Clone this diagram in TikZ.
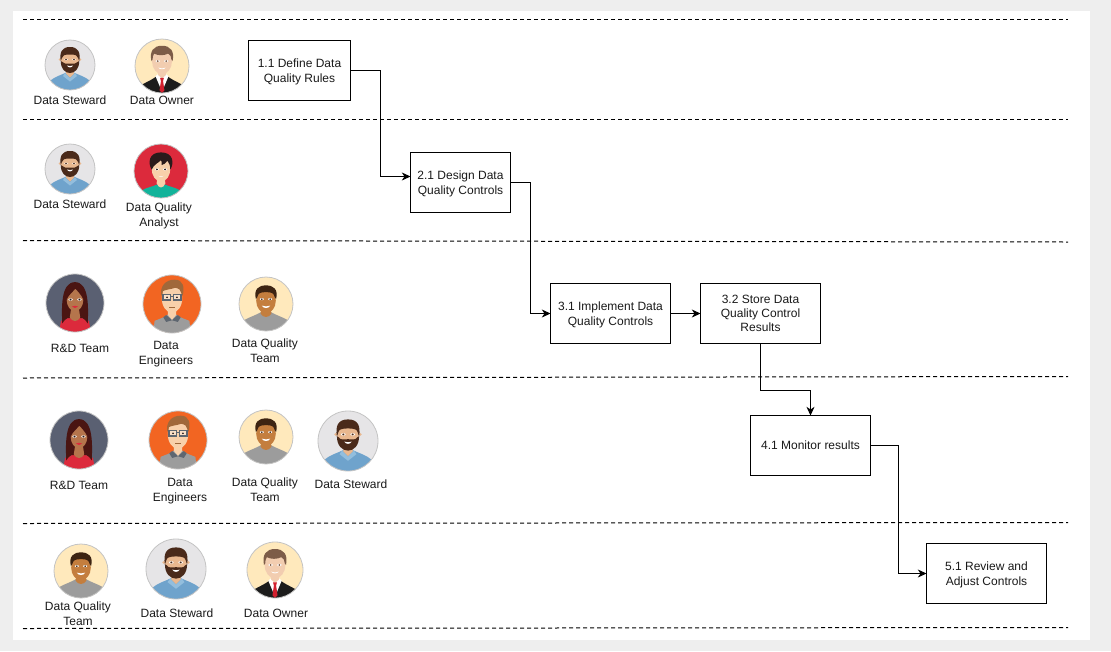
\documentclass[tikz,border=0pt]{standalone}
\usepackage{fontspec}
\setmainfont{Liberation Sans}
\usetikzlibrary{arrows.meta}
\definecolor{pagegray}{HTML}{EEEEEE}
\definecolor{inkc}{HTML}{1A1A1A}
\definecolor{rimc}{HTML}{C4C4C4}
\definecolor{stewbg}{HTML}{E6E5E7}
\definecolor{shirtblue}{HTML}{6FA3CC}
\definecolor{shirtblue2}{HTML}{93BEDD}
\definecolor{skinlight}{HTML}{E9B88F}
\definecolor{hairbrown}{HTML}{4A2A1A}
\definecolor{creambg}{HTML}{FFE9BC}
\definecolor{skinpale}{HTML}{F2CDB0}
\definecolor{hairowner}{HTML}{7D5C48}
\definecolor{tiered}{HTML}{D2202E}
\definecolor{suitblack}{HTML}{1C1C1C}
\definecolor{analystbg}{HTML}{DC2A3C}
\definecolor{tealc}{HTML}{12B39A}
\definecolor{skinpeach}{HTML}{F8D0AA}
\definecolor{hairdark}{HTML}{2B1B1B}
\definecolor{rdbg}{HTML}{5A6072}
\definecolor{hairmaroon}{HTML}{4A1512}
\definecolor{skintan}{HTML}{B5754C}
\definecolor{engbg}{HTML}{F26522}
\definecolor{shirtgray}{HTML}{9C9C9C}
\definecolor{shirtgray2}{HTML}{5E6670}
\definecolor{hairginger}{HTML}{A0683A}
\definecolor{skinbrown}{HTML}{C47E3E}
\definecolor{hairdq}{HTML}{3D2412}
\newcommand{\avbase}[1]{\fill[#1] (0,0) circle (100);}
\newcommand{\avrim}{\draw[rimc,line width=.6pt] (0,0) circle (100);}
\newcommand{\aveyes}[2]{\fill[white] (-14,#1) ellipse (7 and 4); \fill[white] (14,#1) ellipse (7 and 4);
  \fill[#2] (-14,#1) circle (3.4); \fill[#2] (14,#1) circle (3.4);}
\newcommand{\lowerline}{\rule{0pt}{8.1pt}}
\tikzset{
  px/.style={x=.75pt,y=-.75pt},
  laneline/.style={line width=.75pt,dash pattern=on 3pt off 2.25pt,black},
  procbox/.style={draw=black,line width=.75pt,fill=white,align=center,text=inkc,outer sep=0pt,inner sep=0pt,font=\fontsize{9pt}{11.25pt}\selectfont},
  rolelabel/.style={align=center,text=inkc,font=\fontsize{9pt}{11.25pt}\selectfont,inner sep=0pt},
  flow/.style={draw=black,line width=.75pt,-{Stealth[length=6.5pt,width=6pt,inset=2pt]}},
  stewardav/.pic={
    \avbase{stewbg}
    \begin{scope}\clip (0,0) circle (100);
      \fill[shirtblue] (-85,100) -- (-78,62) .. controls (-60,46) and (-35,40) .. (-15,30) -- (15,30) .. controls (35,40) and (60,46) .. (78,62) -- (85,100) -- cycle;
      \fill[shirtblue2] (-20,32) -- (0,52) -- (20,32) -- (28,44) -- (0,66) -- (-28,44) -- cycle;
      \fill[skinlight] (-14,15) -- (14,15) -- (16,34) -- (0,50) -- (-16,34) -- cycle;
    \end{scope}
    \begin{scope}[xscale=1.12]
    \fill[skinlight] (0,-18) ellipse (32 and 38);
    \fill[skinlight] (-36,-22) circle (5); \fill[skinlight] (36,-22) circle (5);
    \fill[hairbrown] (-33,-15) .. controls (-38,-50) and (-30,-72) .. (0,-72) .. controls (30,-72) and (38,-50) .. (33,-15) -- (29,-28) .. controls (28,-38) and (20,-42) .. (0,-42) .. controls (-20,-42) and (-28,-38) .. (-29,-28) -- cycle;
    \fill[hairbrown] (-33,-16) .. controls (-33,15) and (-18,32) .. (0,32) .. controls (18,32) and (33,15) .. (33,-16) -- (27,-12) .. controls (23,-2) and (12,-6) .. (0,-6) .. controls (-12,-6) and (-23,-2) .. (-27,-12) -- cycle;
    \fill[white] (-11,2) .. controls (-5,5) and (5,5) .. (11,2) .. controls (7,12) and (-7,12) .. (-11,2) -- cycle;
    \aveyes{-22}{hairbrown}
    \end{scope}
    \avrim
  },
  ownerav/.pic={
    \avbase{creambg}
    \begin{scope}\clip (0,0) circle (100);
      \fill[suitblack] (-85,100) -- (-72,68) .. controls (-55,58) and (-35,50) .. (-20,38) -- (20,38) .. controls (35,50) and (55,58) .. (72,68) -- (85,100) -- cycle;
      \fill[white] (-24,38) -- (0,95) -- (24,38) -- (12,28) -- (-12,28) -- cycle;
      \fill[skinpale] (-15,10) -- (15,10) -- (14,34) -- (0,46) -- (-14,34) -- cycle;
      \fill[tiered] (-7,44) -- (7,44) -- (4,56) -- (9,90) -- (0,100) -- (-9,90) -- (-4,56) -- cycle;
    \end{scope}
    \begin{scope}[xscale=1.12]
    \fill[skinpale] (0,-18) ellipse (33 and 48);
    \fill[hairowner] (-35,-18) .. controls (-42,-55) and (-28,-75) .. (0,-75) .. controls (28,-75) and (42,-55) .. (35,-18) -- (31,-24) .. controls (31,-34) and (28,-42) .. (20,-46) .. controls (8,-38) and (-14,-38) .. (-26,-46) .. controls (-30,-40) and (-31,-32) .. (-31,-24) -- cycle;
    \aveyes{-18}{hairowner}
    \fill[white] (-12,6) .. controls (-6,10) and (6,10) .. (12,6) .. controls (8,14) and (-8,14) .. (-12,6) -- cycle;
    \end{scope}
    \avrim
  },
  analystav/.pic={
    \avbase{analystbg}
    \begin{scope}\clip (0,0) circle (100);
      \fill[tealc] (-72,100) -- (-68,70) .. controls (-50,60) and (-30,58) .. (-15,50) -- (15,50) .. controls (30,58) and (50,60) .. (68,70) -- (72,100) -- cycle;
      \fill[skinpeach] (-14,15) -- (14,15) -- (16,46) .. controls (8,66) and (-8,66) .. (-16,46) -- cycle;
    \end{scope}
    \begin{scope}[xscale=1.08]
    \fill[skinpeach] (0,-8) ellipse (32 and 47);
    \fill[hairdark] (-32,-5) .. controls (-46,-30) and (-42,-69) .. (0,-69) .. controls (42,-69) and (46,-30) .. (32,-5) .. controls (32,-20) and (28,-30) .. (22,-38) .. controls (18,-28) and (8,-24) .. (2,-22) .. controls (4,-30) and (2,-36) .. (0,-40) .. controls (-8,-30) and (-24,-26) .. (-32,-5) -- cycle;
    \aveyes{-6}{hairdark}
    \fill[white] (-9,18) .. controls (-4,21) and (4,21) .. (9,18) .. controls (6,24) and (-6,24) .. (-9,18) -- cycle;
    \end{scope}
    \avrim
  },
  rdav/.pic={
    \avbase{rdbg}
    \begin{scope}\clip (0,0) circle (100);
      \fill[analystbg] (-55,100) -- (-48,62) .. controls (-30,54) and (-20,50) .. (-14,50) .. controls (-4,62) and (4,62) .. (14,50) .. controls (20,50) and (30,54) .. (48,62) -- (55,100) -- cycle;
      \fill[hairmaroon] (-44,70) .. controls (-46,20) and (-50,-72) .. (0,-72) .. controls (50,-72) and (46,20) .. (44,70) .. controls (38,60) and (32,56) .. (26,52) -- (-26,52) .. controls (-32,56) and (-38,60) .. (-44,70) -- cycle;
      \fill[skintan] (-12,10) -- (12,10) -- (18,50) .. controls (8,66) and (-8,66) .. (-18,50) -- cycle;
    \end{scope}
    \begin{scope}[xscale=1.1]
    \fill[skintan] (0,-10) ellipse (26 and 38);
    \fill[hairmaroon] (-27,-10) .. controls (-28,-40) and (-10,-52) .. (2,-52) .. controls (-2,-42) and (-20,-30) .. (-27,-10) -- cycle;
    \fill[hairmaroon] (27,-10) .. controls (28,-40) and (10,-52) .. (0,-52) .. controls (6,-42) and (20,-30) .. (27,-10) -- cycle;
    \aveyes{-12}{hairdark}
    \fill[analystbg] (-10,12) .. controls (-4,9) and (4,9) .. (10,12) .. controls (5,19) and (-5,19) .. (-10,12) -- cycle;
    \end{scope}
    \avrim
  },
  engav/.pic={
    \avbase{engbg}
    \begin{scope}\clip (0,0) circle (100);
      \fill[shirtgray] (-65,100) -- (-60,58) .. controls (-40,50) and (-25,46) .. (-14,36) -- (14,36) .. controls (25,46) and (40,50) .. (60,58) -- (65,100) -- cycle;
      \fill[shirtgray2] (-20,38) -- (0,56) -- (-20,62) -- (-30,46) -- cycle;
      \fill[shirtgray2] (20,38) -- (0,56) -- (20,62) -- (30,46) -- cycle;
      \fill[skinpeach] (-14,12) -- (14,12) -- (14,38) -- (0,54) -- (-14,38) -- cycle;
    \end{scope}
    \begin{scope}[xscale=1.14]
    \fill[skinpeach] (0,-20) ellipse (31 and 50);
    \fill[hairginger] (-32,-28) .. controls (-38,-60) and (-20,-84) .. (8,-84) .. controls (36,-84) and (38,-55) .. (32,-28) -- (28,-38) .. controls (28,-48) and (20,-54) .. (10,-56) .. controls (-5,-50) and (-20,-50) .. (-28,-44) -- (-28,-38) -- cycle;
    \draw[shirtgray2,line width=.9pt,fill=white,fill opacity=.35] (-27,-32) rectangle (-5,-14);
    \draw[shirtgray2,line width=.9pt,fill=white,fill opacity=.35] (5,-32) rectangle (27,-14);
    \draw[shirtgray2,line width=.9pt] (-5,-26) -- (5,-26);
    \fill[hairdark] (-15,-23) circle (3); \fill[hairdark] (15,-23) circle (3);
    \draw[hairginger,line width=.5pt] (-8,10) -- (8,10);
    \end{scope}
    \avrim
  },
  dqav/.pic={
    \avbase{creambg}
    \begin{scope}\clip (0,0) circle (100);
      \fill[shirtgray] (-85,100) -- (-78,58) .. controls (-55,46) and (-35,40) .. (-18,30) -- (18,30) .. controls (35,40) and (55,46) .. (78,58) -- (85,100) -- cycle;
      \fill[skinbrown] (-18,15) -- (18,15) -- (20,36) .. controls (10,52) and (-10,52) .. (-20,36) -- cycle;
    \end{scope}
    \begin{scope}[xscale=1.1]
    \fill[skinbrown] (0,-12) ellipse (33 and 46);
    \fill[hairdq] (-34,-18) .. controls (-42,-55) and (-25,-69) .. (0,-69) .. controls (25,-69) and (42,-55) .. (34,-18) -- (29,-26) .. controls (27,-40) and (20,-44) .. (0,-44) .. controls (-20,-44) and (-27,-40) .. (-29,-26) -- cycle;
    \aveyes{-18}{hairdq}
    \fill[white] (-14,6) .. controls (-6,10) and (6,10) .. (14,6) .. controls (9,18) and (-9,18) .. (-14,6) -- cycle;
    \end{scope}
    \avrim
  }
}
\begin{document}
\begin{tikzpicture}[px]
\useasboundingbox (0,0) rectangle (1111,651);
\fill[pagegray] (0,0) rectangle (1111,651);
\fill[white] (13,11) rectangle (1090,640);
% lanes
\draw[laneline] (23,19.5) -- (1068,19.5);
\draw[laneline] (23,119.5) -- (1068,119.5);
\draw[laneline] (23,240.5) -- (1068,242);
\draw[laneline] (23,378) -- (1068,376.5);
\draw[laneline] (23,523.5) -- (1068,522.5);
\draw[laneline] (23,628.5) -- (1068,627.5);
% avatars
\pic[scale=.25] at (70,65) {stewardav};
\pic[scale=.27] at (162,66) {ownerav};
\pic[scale=.25] at (70,169) {stewardav};
\pic[scale=.27] at (161,171) {analystav};
\pic[scale=.29] at (75,303) {rdav};
\pic[scale=.29] at (172,304) {engav};
\pic[scale=.27] at (266,304) {dqav};
\pic[scale=.29] at (79,440) {rdav};
\pic[scale=.29] at (178,440) {engav};
\pic[scale=.27] at (266,437) {dqav};
\pic[scale=.30] at (348,441) {stewardav};
\pic[scale=.27] at (81,571) {dqav};
\pic[scale=.30] at (176,569) {stewardav};
\pic[scale=.28] at (275,570) {ownerav};
% role labels
\node[rolelabel] (l1) at (70,100) {Data Steward};
\node[rolelabel] (l2) at (162,100) {Data Owner};
\node[rolelabel] (l3) at (70,204) {Data Steward};
\node[rolelabel] (l4) at (159,215.5) {Data Quality\\Analyst};
\node[rolelabel] (l5) at (80,348) {R\&D Team};
\node[rolelabel] (l6) at (166,354.5) {Data\\Engineers};
\node[rolelabel] (l7) at (265,350.5) {Data Quality\\Team};
\node[rolelabel] (l8) at (79,485) {R\&D Team};
\node[rolelabel] (l9) at (180,491.5) {Data\\Engineers};
\node[rolelabel] (l10) at (265,490) {Data Quality\\Team};
\node[rolelabel] (l11) at (351,484) {Data Steward};
\node[rolelabel] (l12) at (78,614) {Data Quality\\Team};
\node[rolelabel] (l13) at (177,613) {Data Steward};
\node[rolelabel] (l14) at (276,613) {Data Owner};
% process boxes
\node[procbox,minimum width=76.5pt,minimum height=45pt] (b11) at (299.5,70.5) {\lowerline 1.1 Define Data\\Quality Rules};
\node[procbox,minimum width=75pt,minimum height=45pt] (b21) at (460.5,182.5) {\lowerline 2.1 Design Data\\Quality Controls};
\node[procbox,minimum width=90pt,minimum height=45pt] (b31) at (610.5,313.5) {\lowerline 3.1 Implement Data\\Quality Controls};
\node[procbox,minimum width=90pt,minimum height=45pt,font=\fontsize{9pt}{10.6pt}\selectfont] (b32) at (760.5,313.5) {3.2 Store Data\\Quality Control\\Results};
\node[procbox,minimum width=90pt,minimum height=45pt] (b41) at (810.5,445.5) {4.1 Monitor results};
\node[procbox,minimum width=90pt,minimum height=45pt] (b51) at (986.5,573.5) {\lowerline 5.1 Review and\\Adjust Controls};
% connector bends
\coordinate (c1a) at (380.5,70.5);
\coordinate (c1b) at (380.5,176.5);
\coordinate (c1e) at (410.5,176.5);
\coordinate (c2a) at (530.5,182.5);
\coordinate (c2b) at (530.5,313.5);
\coordinate (c4a) at (760.5,390.5);
\coordinate (c4b) at (810.5,390.5);
\coordinate (c5a) at (898.5,445.5);
\coordinate (c5b) at (898.5,573.5);
\draw[flow] (b11.east) -- (c1a) -- (c1b) -- (c1e);
\draw[flow] (b21.east) -- (c2a) -- (c2b) -- (b31.west);
\draw[flow] (b31.east) -- (b32.west);
\draw[flow] (b32.south) -- (c4a) -- (c4b) -- (b41.north);
\draw[flow] (b41.east) -- (c5a) -- (c5b) -- (b51.west);
\end{tikzpicture}
\end{document}
